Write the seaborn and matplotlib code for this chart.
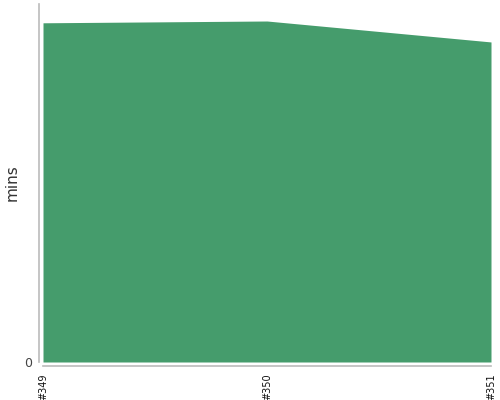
import matplotlib
matplotlib.use("Agg")
import matplotlib.pyplot as plt
import numpy as np
import pandas as pd
import seaborn as sns

# build labels and minutes per build
builds = ["#349", "#350", "#351"]
minutes = [18.95, 19.05, 17.88]
y_max = 20.0

df = pd.DataFrame({"build": builds, "mins": minutes})
df["pos"] = np.arange(len(df))

sns.set_theme(style="white")
plt.rcParams["font.family"] = ["DejaVu Sans"]

fig = plt.figure(figsize=(5, 4), dpi=100)
ax = fig.add_axes([43 / 500, 38 / 400, 448 / 500, 358 / 400])

sns.lineplot(data=df, x="pos", y="mins", ax=ax, color="#459c6c", linewidth=0)
ax.fill_between(df["pos"], 0, df["mins"], color="#459c6c", linewidth=0)

# despine first: moving spines resets the tick styling
sns.despine(ax=ax, offset=3)
for side in ["left", "bottom"]:
    ax.spines[side].set_color("#bbbbbb")
    ax.spines[side].set_linewidth(1.2)

ax.set_xlim(df["pos"].min(), df["pos"].max())
ax.set_ylim(0, y_max)
ax.spines["bottom"].set_bounds(df["pos"].min(), df["pos"].max())
ax.set_xticks(df["pos"])
ax.set_xticklabels(builds, rotation=90, fontsize=7, color="#111111")
ax.set_yticks([0])
ax.set_yticklabels(["0"], fontsize=9, color="#444444")
ax.set_xlabel("")
ax.set_ylabel("mins", fontsize=11, color="#333333")
ax.yaxis.set_label_coords(-0.053, 0.5)

ax.tick_params(axis="both", length=3, width=0.8, color="#bbbbbb", pad=2)

fig.savefig("out.png", dpi=100)
